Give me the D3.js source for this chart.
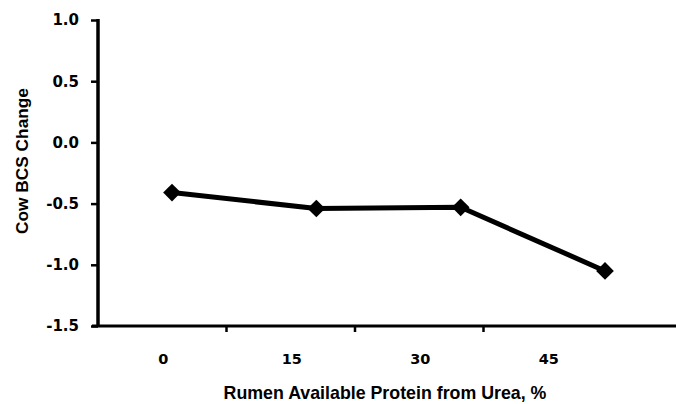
<!DOCTYPE html>
<html>
<head>
<meta charset="utf-8">
<script src="https://cdn.jsdelivr.net/npm/d3@7"></script>
<style>
  body { margin: 0; background: #fff; }
  text { font-family: "Liberation Sans", Arial, sans-serif; font-weight: bold; fill: #000; }
  .num { font-family: "DejaVu Sans", sans-serif; }
</style>
</head>
<body>
<script>
var w = 676, h = 404;

// data
var categories = ["0", "15", "30", "45"];
var bcsChange = [-0.41, -0.54, -0.53, -1.05];
var yTicks = [1.0, 0.5, 0.0, -0.5, -1.0, -1.5];

var svg = d3.select("body")
  .append("svg")
  .attr("width", w)
  .attr("height", h);

// band scale for axis ticks / labels
var x = d3.scaleBand()
  .domain(categories)
  .range([98, 612]);

// point positions of the markers (scan is a bit stretched vs. labels)
var xp = d3.scalePoint()
  .domain(categories)
  .range([172, 605]);

var y = d3.scaleLinear()
  .domain([-1.5, 1.0])
  .range([326, 20]);

// y axis
var yAxis = svg.append("g")
  .attr("transform", "translate(98,0)")
  .call(d3.axisLeft(y).tickValues(yTicks).tickSize(7).tickPadding(12)
    .tickFormat(d3.format(".1f")));
yAxis.attr("font-size", null).attr("font-family", null);
yAxis.select(".domain").remove();
yAxis.selectAll(".tick line").attr("stroke", "#000").attr("stroke-width", 2.5);
yAxis.selectAll(".tick text")
  .attr("class", "num")
  .style("font-size", "15px")
  .text(function(d){ return d3.format(".1f")(d).replace("−", "-"); });

svg.append("line")
  .attr("x1", 98).attr("x2", 98)
  .attr("y1", y(1.0) - 1).attr("y2", y(-1.5) + 1)
  .attr("stroke", "#000").attr("stroke-width", 3.5);

// x axis
svg.append("line")
  .attr("x1", 92).attr("x2", w)
  .attr("y1", y(-1.5)).attr("y2", y(-1.5))
  .attr("stroke", "#000").attr("stroke-width", 3);

svg.selectAll(".xtick")
  .data(categories.slice(1))
  .enter()
  .append("line")
  .attr("class", "xtick")
  .attr("x1", function(d){ return x(d); })
  .attr("x2", function(d){ return x(d); })
  .attr("y1", y(-1.5))
  .attr("y2", y(-1.5) + 6)
  .attr("stroke", "#000").attr("stroke-width", 2.5);

svg.selectAll(".xlabel")
  .data(categories)
  .enter()
  .append("text")
  .attr("class", "xlabel num")
  .attr("text-anchor", "middle")
  .attr("x", function(d){ return x(d) + x.bandwidth() / 2 + 1; })
  .attr("y", 364)
  .style("font-size", "14.5px")
  .text(function(d){ return d; });

// line + markers
var line = d3.line()
  .x(function(d, i){ return xp(categories[i]); })
  .y(function(d){ return y(d); });

svg.append("path")
  .datum(bcsChange)
  .attr("d", line)
  .attr("fill", "none")
  .attr("stroke", "#000")
  .attr("stroke-width", 5)
  .attr("stroke-linejoin", "round");

svg.selectAll(".marker")
  .data(bcsChange)
  .enter()
  .append("path")
  .attr("class", "marker")
  .attr("d", d3.symbol().type(d3.symbolDiamond2).size(200))
  .attr("transform", function(d, i){
    return "translate(" + xp(categories[i]) + "," + y(d) + ")";
  })
  .attr("fill", "#000");

// titles
svg.append("text")
  .attr("text-anchor", "middle")
  .attr("x", 385)
  .attr("y", 399)
  .style("font-size", "17.8px")
  .text("Rumen Available Protein from Urea, %");

svg.append("text")
  .attr("text-anchor", "middle")
  .attr("transform", "translate(28,161) rotate(-90)")
  .style("font-size", "17.3px")
  .text("Cow BCS Change");
</script>
</body>
</html>
